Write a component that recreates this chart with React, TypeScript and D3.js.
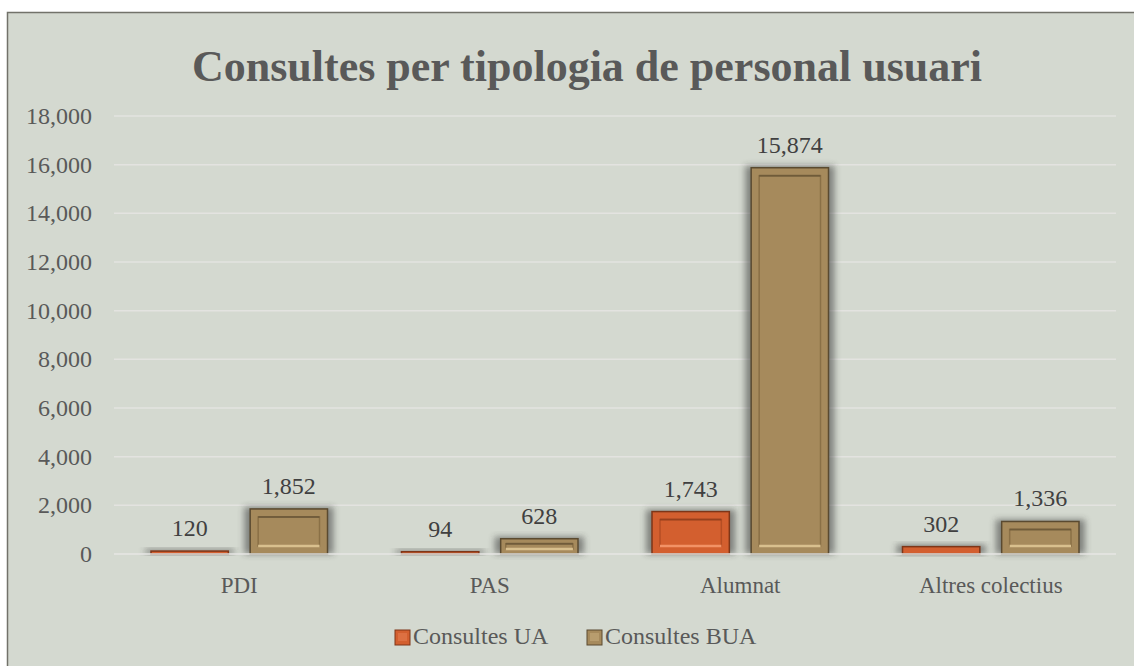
import React from "react";
import * as d3 from "d3";

const categories = ["PDI", "PAS", "Alumnat", "Altres colectius"];
const seriesNames = ["Consultes UA", "Consultes BUA"];
const consultesUA = [120, 94, 1743, 302];
const consultesBUA = [1852, 628, 15874, 1336];
const yTicks = [0, 2000, 4000, 6000, 8000, 10000, 12000, 14000, 16000, 18000];

const W = 1134, H = 666;
const plot = { left: 114, right: 1116, top: 116, bottom: 554 };
const colors = [
  { fill: "#d35f2f", dark: "#7e3618", light: "#f29266", shade: "#b54e24" },
  { fill: "#a68a5c", dark: "#5a4a30", light: "#d9c08e", shade: "#8a7046" },
];
const FONT = "Liberation Serif, serif";

export default function App() {
  const x0 = d3.scaleBand<string>().domain(categories).range([plot.left, plot.right]).paddingInner(0).paddingOuter(0);
  const x1 = d3.scaleBand<string>().domain(seriesNames).range([37, x0.bandwidth() - 37]).paddingInner(0.22);
  const y = d3.scaleLinear().domain([0, 18000]).range([plot.bottom, plot.top]);
  const fmt = d3.format(",");
  const data = [consultesUA, consultesBUA];

  const bar = (si: number, ci: number) => {
    const v = data[si][ci];
    const c = colors[si];
    const bx = (x0(categories[ci]) ?? 0) + (x1(seriesNames[si]) ?? 0);
    const bw = x1.bandwidth();
    const by = y(v);
    const bh = y(0) - by;
    const inset = Math.min(8, bh / 3);
    return (
      <g key={`${si}-${ci}`}>
        <rect x={bx - 6} y={by - 2} width={bw + 12} height={bh + 2} fill="#2e2e2e" opacity={0.5} filter="url(#blur)" />
        <rect x={bx} y={by} width={bw} height={bh} fill={c.fill} stroke={c.dark} strokeWidth={1.5} />
        {bh > 12 && (
          <g>
            <rect x={bx + inset} y={by + inset} width={bw - 2 * inset} height={bh - 2 * inset} fill={c.fill} stroke={c.shade} strokeWidth={1.5} />
            <line x1={bx + inset} x2={bx + bw - inset} y1={by + inset} y2={by + inset} stroke={c.dark} strokeWidth={2} opacity={0.55} />
            <line x1={bx + inset} x2={bx + bw - inset} y1={by + bh - inset} y2={by + bh - inset} stroke={c.light} strokeWidth={2.5} />
          </g>
        )}
        <text x={bx + bw / 2} y={by - 15} textAnchor="middle" fontSize={24} fill="#404040" fontFamily={FONT}>{fmt(v)}</text>
      </g>
    );
  };

  return (
    <svg width={W} height={H} style={{ position: "absolute", left: 0, top: 0, background: "#ffffff" }} fontFamily={FONT}>
      <defs>
        <filter id="blur" x="-30%" y="-30%" width="160%" height="160%">
          <feGaussianBlur stdDeviation="3" />
        </filter>
      </defs>
      <rect x={7.5} y={12.5} width={1130} height={660} fill="#d4d9d0" stroke="#72726a" strokeWidth={1.5} />
      <text x={587} y={81} textAnchor="middle" fontSize={44} fontWeight="bold" fill="#595959">Consultes per tipologia de personal usuari</text>
      {yTicks.map((t) => (
        <g key={t}>
          <line x1={plot.left} x2={plot.right} y1={y(t)} y2={y(t)} stroke="#e3e3e0" strokeWidth={1.5} />
          <text x={92} y={y(t) + 8} textAnchor="end" fontSize={24} fill="#595959">{fmt(t)}</text>
        </g>
      ))}
      {categories.map((c, ci) => (
        <g key={c}>
          {bar(0, ci)}
          {bar(1, ci)}
          <text x={(x0(c) ?? 0) + x0.bandwidth() / 2} y={593} textAnchor="middle" fontSize={23} fill="#595959">{c}</text>
        </g>
      ))}
      <line x1={plot.left} x2={plot.right} y1={y(0)} y2={y(0)} stroke="#e3e3e0" strokeWidth={1.5} />
      {seriesNames.map((s, si) => {
        const lx = si === 0 ? 395 : 587;
        return (
          <g key={s}>
            <rect x={lx} y={630} width={15} height={15} fill={colors[si].fill} stroke={colors[si].dark} />
            <rect x={lx + 3} y={633} width={9} height={8} fill={colors[si].light} opacity={0.35} />
            <text x={lx + 18} y={644} fontSize={24} fill="#595959">{s}</text>
          </g>
        );
      })}
    </svg>
  );
}
